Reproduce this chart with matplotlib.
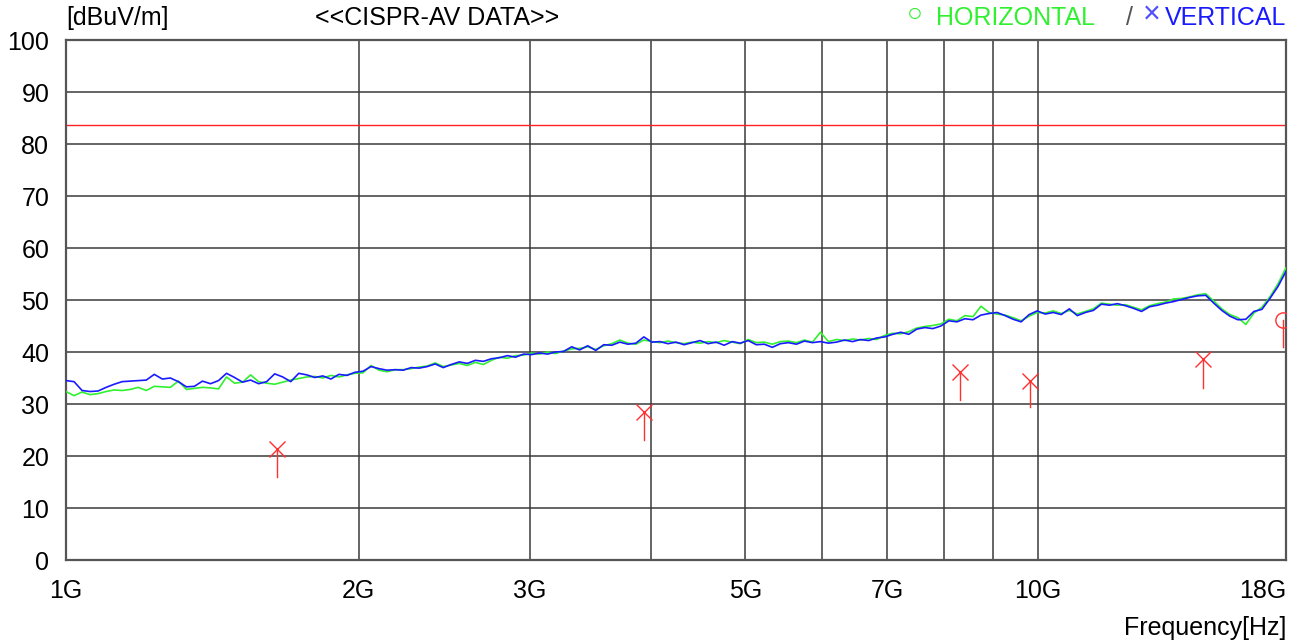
import numpy as np
import matplotlib
matplotlib.use("Agg")
from matplotlib import pyplot as plt

plt.rcParams['font.family'] = ['Liberation Sans', 'DejaVu Sans']

# sweep levels in dBuV/m, 1 GHz .. 18 GHz (log-spaced sweep points)
level_h = [32.4, 31.6, 32.3, 31.8, 32.0, 32.4, 32.7, 32.6, 32.8, 33.2,
           32.6, 33.4, 33.3, 33.2, 34.4, 32.8, 33.0, 33.2, 33.1, 32.9,
           35.2, 34.0, 34.2, 35.6, 34.3, 34.0, 33.8, 34.2, 34.6, 34.9,
           35.2, 35.3, 35.0, 35.5, 35.2, 35.6, 35.9, 36.0, 37.4, 36.5,
           36.2, 36.6, 36.6, 36.8, 37.1, 37.3, 37.9, 37.2, 37.5, 37.8,
           37.4, 38.0, 37.6, 38.4, 39.0, 38.8, 39.3, 39.4, 39.8, 39.6,
           40.0, 39.7, 40.2, 40.6, 40.7, 41.0, 40.5, 41.2, 41.6, 42.3,
           41.7, 41.5, 42.3, 42.0, 41.8, 42.1, 41.8, 41.6, 41.9, 41.7,
           42.0, 41.8, 42.2, 41.9, 41.6, 42.4, 41.8, 41.9, 41.5, 42.0,
           42.1, 41.8, 42.3, 41.9, 43.8, 42.0, 42.4, 42.2, 42.5, 42.3,
           42.6, 42.4, 43.2, 43.6, 43.5, 43.9, 44.6, 44.9, 45.1, 45.4,
           46.3, 46.0, 47.0, 46.8, 48.8, 47.6, 47.3, 47.1, 46.6, 46.0,
           46.9, 47.6, 47.5, 47.9, 47.4, 48.0, 47.3, 47.8, 48.3, 49.4,
           49.2, 49.0, 49.1, 48.6, 48.1, 48.9, 49.3, 49.6, 50.2, 50.3,
           50.6, 51.0, 51.2, 49.8, 48.3, 47.2, 46.6, 45.3, 47.5, 48.6,
           50.6, 53.1, 56.2]

level_v = [34.5, 34.3, 32.6, 32.4, 32.5, 33.2, 33.8, 34.3, 34.4, 34.5,
           34.6, 35.7, 34.8, 35.0, 34.3, 33.3, 33.4, 34.4, 33.9, 34.5,
           35.9, 35.1, 34.2, 34.6, 33.9, 34.3, 35.8, 35.2, 34.3, 35.9,
           35.6, 35.1, 35.4, 34.8, 35.7, 35.5, 36.1, 36.3, 37.2, 36.8,
           36.5, 36.6, 36.5, 37.0, 36.9, 37.2, 37.7, 37.0, 37.6, 38.1,
           37.8, 38.4, 38.2, 38.7, 38.9, 39.3, 39.0, 39.6, 39.5, 39.8,
           39.6, 40.0, 40.1, 41.0, 40.4, 41.2, 40.3, 41.4, 41.3, 41.9,
           41.5, 41.7, 42.9, 41.9, 42.0, 41.6, 41.9, 41.4, 41.8, 42.2,
           41.6, 41.9, 41.3, 42.0, 41.7, 42.2, 41.4, 41.5, 40.9, 41.6,
           41.8, 41.5, 42.1, 41.8, 42.0, 41.7, 41.9, 42.3, 42.0, 42.4,
           42.2, 42.7, 42.9, 43.4, 43.8, 43.4, 44.4, 44.7, 44.5, 45.0,
           46.0, 45.8, 46.4, 46.2, 47.1, 47.4, 47.6, 47.0, 46.3, 45.8,
           47.2, 47.9, 47.3, 47.6, 47.2, 48.3, 47.0, 47.6, 48.0, 49.2,
           49.0, 49.3, 48.9, 48.4, 47.8, 48.7, 49.0, 49.4, 49.7, 50.1,
           50.5, 50.8, 50.9, 49.4, 48.0, 46.9, 46.2, 46.3, 47.8, 48.2,
           50.3, 52.6, 55.5]

sweep_freq = np.geomspace(1e9, 18e9, len(level_v))

# final measured peaks (AV), x = vertical, o = horizontal
peak_freq = [1.65e9, 3.93e9, 8.32e9, 9.82e9, 14.8e9, 17.86e9]
peak_level = [21.3, 28.5, 36.2, 34.5, 38.6, 46.2]
peak_stem = [16.0, 23.1, 30.8, 29.4, 33.1, 41.0]
peak_pol = ['V', 'V', 'V', 'V', 'V', 'H']

limit_av = 83.6

x_ticks = [1e9, 2e9, 3e9, 5e9, 7e9, 10e9, 18e9]
x_labels = ['1G', '2G', '3G', '5G', '7G', '10G', '18G']
x_grid = [2e9, 3e9, 4e9, 5e9, 6e9, 7e9, 8e9, 9e9, 10e9]

fig = plt.figure(figsize=(13.03, 6.43), dpi=100)
ax = fig.add_axes([66/1303, 83/643, 1220/1303, 520/643])

ax.set_xscale('log')
ax.set_xlim(1e9, 18e9)
ax.set_ylim(0, 100)

for f in x_grid:
    ax.axvline(f, color='#3a3a3a', linewidth=1.1, zorder=1)
for y in range(10, 100, 10):
    ax.axhline(y, color='#3a3a3a', linewidth=1.1, zorder=1)

ax.axhline(limit_av, color='#ff2020', linewidth=1.0, zorder=2)

ax.plot(sweep_freq, level_h, color='#30f030', linewidth=1.2, zorder=3)
ax.plot(sweep_freq, level_v, color='#1a1aff', linewidth=1.2, zorder=4)

for f, lv, lo, p in zip(peak_freq, peak_level, peak_stem, peak_pol):
    ax.plot([f, f], [lo, lv], color='#ff3030', linewidth=1.0, zorder=5)
    if p == 'V':
        ax.plot(f, lv, marker='x', color='#ff3030', markersize=12,
                markeredgewidth=1.0, zorder=5)
    else:
        ax.plot(f, lv, marker='o', markerfacecolor='none', markeredgecolor='#ff3030',
                markersize=11, markeredgewidth=1.0, zorder=5)

ax.set_xticks(x_ticks)
ax.set_xticklabels(x_labels, fontsize=18)
ax.get_xticklabels()[-1].set_horizontalalignment('right')
ax.xaxis.set_minor_locator(matplotlib.ticker.NullLocator())
ax.set_yticks(range(0, 101, 10))
ax.set_yticklabels([str(v) for v in range(0, 101, 10)], fontsize=18)
ax.tick_params(axis='both', length=0)
ax.tick_params(axis='x', pad=14)
ax.tick_params(axis='y', pad=12)

for s in ax.spines.values():
    s.set_color('#555555')
    s.set_linewidth(1.6)

fig.text(66/1303, 1 - 18/643, '[dBuV/m]', fontsize=18, va='center', ha='left')
fig.text(437/1303, 1 - 18/643, '<<CISPR-AV DATA>>', fontsize=18, va='center', ha='center')
fig.text(915/1303, 1 - 14/643, '○', fontsize=19, color='#30f030', va='center', ha='center')
fig.text(936/1303, 1 - 18/643, 'HORIZONTAL', fontsize=18, color='#30f030', va='center', ha='left')
fig.text(1130/1303, 1 - 18/643, '/', fontsize=18, color='#555555', va='center', ha='center')
fig.text(1152/1303, 1 - 15/643, '×', fontsize=22, color='#5050ff', va='center', ha='center')
fig.text(1286/1303, 1 - 18/643, 'VERTICAL', fontsize=18, color='#1a1aff', va='center', ha='right')
fig.text(1286/1303, 1 - 628/643, 'Frequency[Hz]', fontsize=18, va='center', ha='right')

fig.savefig('out.png', dpi=100, facecolor='white')
